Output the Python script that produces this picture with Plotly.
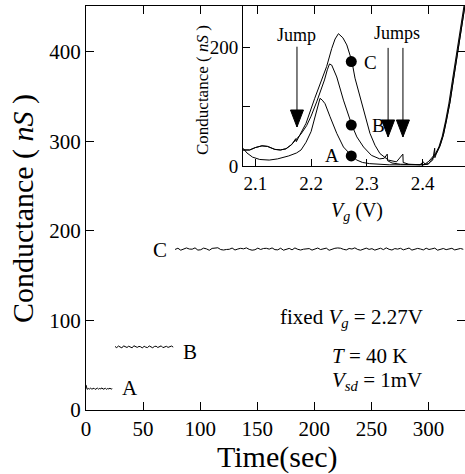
import plotly.graph_objects as go

# ---------------- main panel: conductance vs time ----------------
A_T0, A_DT = 0.0, 1.0
A_G = [28.0, 23.1, 24.0, 23.4, 24.6, 23.2, 23.9, 24.3, 23.0, 23.8, 24.4, 23.3,
       24.1, 23.6, 24.7, 23.2, 23.9, 24.2, 23.1, 24.0, 23.5, 24.4, 23.3, 23.8]
B_T0, B_DT = 25.4, 1.5
B_G = [70.9, 69.6, 71.4, 70.2, 69.3, 71.6, 70.5, 69.8, 71.2, 70.0, 69.4, 71.7,
       70.3, 69.9, 71.0, 70.6, 69.2, 71.3, 70.1, 69.7, 71.5, 70.4, 69.5, 70.9,
       71.2, 69.8, 70.3, 71.6, 69.6, 70.7, 71.1, 69.9, 70.5, 71.4, 70.2]
C_T0, C_DT = 78.0, 2.5
C_G = [179.2, 180.6, 178.4, 179.8, 180.9, 179.7, 179.5, 181.0, 178.5, 178.9,
       180.7, 179.9, 178.3, 180.4, 180.6, 181.1, 179.1, 178.6, 179.2, 179.4,
       180.8, 178.6, 179.7, 180.5, 179.9, 181.0, 179.3, 178.4, 178.9, 180.7,
       179.2, 180.3, 180.5, 179.6, 180.9, 179.0, 178.8, 180.6, 178.4, 179.5,
       180.4, 178.8, 180.9, 179.4, 178.6, 179.5, 179.7, 180.2, 178.5, 179.3,
       180.8, 179.1, 179.9, 180.7, 178.3, 179.6, 180.5, 180.9, 180.6, 179.4,
       178.7, 180.3, 179.7, 181.0, 179.2, 178.4, 179.8, 180.7, 179.3, 180.1,
       178.5, 179.5, 180.6, 179.0, 181.0, 179.4, 178.6, 180.2, 179.6, 180.5,
       178.8, 179.8, 180.8, 178.5, 179.3, 180.4, 179.7, 178.7, 180.6, 179.2,
       179.9, 180.7, 178.4, 179.5, 180.3, 179.0, 179.8, 180.5, 178.7, 179.6,
       180.3, 179.4]

MAIN_LABELS = ["A", "B", "C"]
MAIN_LABEL_T = [38.6, 91.0, 64.9]
MAIN_LABEL_G = [24.6, 65.0, 178.8]

# ---------------- inset: conductance vs gate voltage ----------------
VG_A = [2.078, 2.085, 2.095, 2.108, 2.125, 2.140, 2.160, 2.174, 2.182, 2.191,
        2.200, 2.208, 2.213, 2.216, 2.220, 2.225, 2.234, 2.246, 2.258, 2.266,
        2.273, 2.282, 2.292, 2.305, 2.320, 2.340, 2.360, 2.380, 2.395, 2.401,
        2.404, 2.411, 2.417, 2.423, 2.429, 2.435, 2.441, 2.447, 2.453, 2.459,
        2.465, 2.471, 2.477]
G_A = [30, 22, 15, 11, 10, 12, 17, 22, 27, 40,
       58, 85, 104, 114, 111, 105, 83, 55, 32, 23,
       17, 10, 6, 4, 3, 2, 2, 2, 2, 7,
       3, 8, 14, 21, 32, 50, 76, 106, 143, 181,
       218, 253, 288]

VG_B = [2.078, 2.090, 2.100, 2.112, 2.122, 2.135, 2.145, 2.155, 2.165, 2.1736,
        2.182, 2.192, 2.200, 2.210, 2.218, 2.224, 2.229, 2.233, 2.237, 2.246,
        2.258, 2.273, 2.282, 2.294, 2.308, 2.323, 2.331, 2.3365, 2.337, 2.345,
        2.360, 2.380, 2.400, 2.410, 2.418, 2.4215, 2.4218, 2.425, 2.431, 2.437,
        2.443, 2.449, 2.455, 2.461, 2.467, 2.473, 2.479]
G_B = [27, 27, 31, 34, 33, 28, 27, 29, 36, 45,
       54, 68, 84, 108, 128, 145, 162, 172, 170, 150,
       111, 69, 49, 32, 18, 12, 13, 20, 9, 5,
       3, 2, 2, 4, 10, 30, 14, 22, 34, 52,
       78, 108, 145, 183, 220, 255, 290]

VG_C = [2.078, 2.090, 2.100, 2.112, 2.122, 2.135, 2.145, 2.155, 2.165, 2.1725,
        2.1735, 2.180, 2.191, 2.2065, 2.218, 2.228, 2.237, 2.243, 2.249, 2.253,
        2.257, 2.264, 2.273, 2.2787, 2.2876, 2.2966, 2.3055, 2.3145, 2.3234, 2.3384,
        2.353, 2.3645, 2.365, 2.375, 2.390, 2.400, 2.410, 2.419, 2.425, 2.431,
        2.437, 2.443, 2.449, 2.455, 2.461, 2.467, 2.473, 2.479]
G_C = [27, 27, 31, 34, 33, 28, 27, 29, 36, 46,
       41, 52, 72, 114, 143, 168, 198, 214, 223, 219,
       216, 204, 177, 148, 117, 83, 55, 35, 21, 10,
       7, 20, 6, 3, 2, 2, 3, 15, 22, 34,
       52, 78, 108, 145, 183, 220, 255, 290]

DOT_VG = [2.272, 2.272, 2.272]
DOT_G = [176, 69, 17]
INSET_LABELS = ["C", "B", "A"]
INSET_LABEL_VG = [2.3056, 2.320, 2.2375]
INSET_LABEL_G = [175, 69, 18.5]

ARROW_VG = [2.1747, 2.338, 2.3646]
ARROW_TOP = [201, 199, 199]
ARROW_TIP = [65.7, 48.9, 48.9]
JUMP_TEXT = ["Jump", "Jumps"]
JUMP_TEXT_VG = [2.1747, 2.354]
JUMP_TEXT_G = [220.7, 224]

MAIN_XTICKS = [0, 50, 100, 150, 200, 250, 300]
MAIN_YTICKS = [0, 100, 200, 300, 400]
INSET_XTICKS = [2.1, 2.2, 2.3, 2.4]
INSET_YTICKS = [0, 100, 200]
INSET_YTICKTEXT = ["0", "", "200"]

FONT = "Liberation Serif"

fig = go.Figure()

def seg(t0, dt, g):
    return [t0 + i * dt for i in range(len(g))], g

for t0, dt, g in [(A_T0, A_DT, A_G), (B_T0, B_DT, B_G), (C_T0, C_DT, C_G)]:
    t, v = seg(t0, dt, g)
    fig.add_trace(go.Scatter(x=t, y=v, mode="lines", line=dict(color="black", width=1),
                             xaxis="x", yaxis="y", showlegend=False, hoverinfo="skip"))

for vg, g in [(VG_A, G_A), (VG_B, G_B), (VG_C, G_C)]:
    fig.add_trace(go.Scatter(x=vg, y=g, mode="lines", line=dict(color="black", width=1),
                             xaxis="x2", yaxis="y2", showlegend=False, hoverinfo="skip",
                             cliponaxis=True))

fig.add_trace(go.Scatter(x=DOT_VG, y=DOT_G, mode="markers",
                         marker=dict(color="black", size=11, symbol="circle"),
                         xaxis="x2", yaxis="y2", showlegend=False, hoverinfo="skip"))

# arrows in the inset
for xv, top, tip in zip(ARROW_VG, ARROW_TOP, ARROW_TIP):
    fig.add_shape(type="line", xref="x2", yref="y2", x0=xv, x1=xv, y0=top, y1=tip,
                  line=dict(color="black", width=1))
    fig.add_shape(type="path", xref="x2", yref="y2", xsizemode="pixel", ysizemode="pixel",
                  xanchor=xv, yanchor=tip, path="M-6.5,17 L6.5,17 L0,0 Z",
                  fillcolor="black", line=dict(color="black", width=1))

annotations = []
for txt, xv, yv in zip(MAIN_LABELS, MAIN_LABEL_T, MAIN_LABEL_G):
    annotations.append(dict(text=txt, x=xv, y=yv, xref="x", yref="y", showarrow=False,
                            xanchor="center", yanchor="middle",
                            font=dict(family=FONT, size=21, color="black")))
for txt, xv, yv in zip(INSET_LABELS, INSET_LABEL_VG, INSET_LABEL_G):
    annotations.append(dict(text=txt, x=xv, y=yv, xref="x2", yref="y2", showarrow=False,
                            xanchor="center", yanchor="middle",
                            font=dict(family=FONT, size=19, color="black")))
for txt, xv, yv in zip(JUMP_TEXT, JUMP_TEXT_VG, JUMP_TEXT_G):
    annotations.append(dict(text=txt, x=xv, y=yv, xref="x2", yref="y2", showarrow=False,
                            xanchor="center", yanchor="middle",
                            font=dict(family=FONT, size=18, color="black")))

# text block
annotations += [
    dict(text="fixed <i>V</i><sub><i>g</i></sub> = 2.27V", x=233, y=103, xref="x", yref="y",
         showarrow=False, xanchor="center", yanchor="middle",
         font=dict(family=FONT, size=21, color="black")),
    dict(text="<i>T</i> = 40 K", x=213.5, y=60, xref="x", yref="y", showarrow=False,
         xanchor="left", yanchor="middle", font=dict(family=FONT, size=21, color="black")),
    dict(text="<i>V</i><sub><i>sd</i></sub> = 1mV", x=214, y=32.5, xref="x", yref="y",
         showarrow=False, xanchor="left", yanchor="middle",
         font=dict(family=FONT, size=21, color="black")),
]

# axis titles (placed in pixels via paper coords)
W, H = 465, 474
L, R, T, B = 86, 0, 6, 64
PW, PH = W - L - R, H - T - B

def px(xp):
    return (xp - L) / PW

def py(yp):
    return (H - B - yp) / PH

annotations += [
    dict(text="Conductance ( <i>nS</i> )", x=px(23), y=py(209), xref="paper", yref="paper",
         textangle=-90, showarrow=False, xanchor="center", yanchor="middle",
         font=dict(family=FONT, size=30, color="black")),
    dict(text="Time(sec)", x=px(277), y=py(457), xref="paper", yref="paper",
         showarrow=False, xanchor="center", yanchor="middle",
         font=dict(family=FONT, size=30, color="black")),
    dict(text="Conductance ( <i>nS</i> )", x=px(203), y=py(90), xref="paper", yref="paper",
         textangle=-90, showarrow=False, xanchor="center", yanchor="middle",
         font=dict(family=FONT, size=17, color="black")),
    dict(text="<i>V</i><sub><i>g</i></sub> (V)", x=px(357), y=py(211), xref="paper", yref="paper",
         showarrow=False, xanchor="center", yanchor="middle",
         font=dict(family=FONT, size=20, color="black")),
]

axis_common = dict(showline=True, linecolor="black", linewidth=1, ticks="inside",
                   tickcolor="black", showgrid=False, zeroline=False)

inset_x0 = px(243)
inset_y0 = py(166)

fig.update_layout(
    width=W, height=H,
    margin=dict(l=L, r=R, t=T, b=B),
    paper_bgcolor="white", plot_bgcolor="rgba(0,0,0,0)",
    font=dict(family=FONT, color="black"),
    xaxis=dict(domain=[0, 1], range=[0, 332], tickvals=MAIN_XTICKS, ticklen=8,
               mirror="ticks", tickfont=dict(size=21), anchor="y", **axis_common),
    yaxis=dict(domain=[0, 1], range=[0, 451], tickvals=MAIN_YTICKS, ticklen=8,
               mirror="ticks", tickfont=dict(size=21), anchor="x", **axis_common),
    xaxis2=dict(domain=[inset_x0, 1], range=[2.078, 2.4758], tickvals=INSET_XTICKS,
                ticklen=7, tickfont=dict(size=19), anchor="y2", **axis_common),
    yaxis2=dict(domain=[inset_y0, 1], range=[0, 269.6], tickvals=INSET_YTICKS,
                ticktext=INSET_YTICKTEXT, ticklen=7, tickfont=dict(size=19),
                anchor="x2", **axis_common),
    annotations=annotations,
    showlegend=False,
)

fig.write_html("out.html")
